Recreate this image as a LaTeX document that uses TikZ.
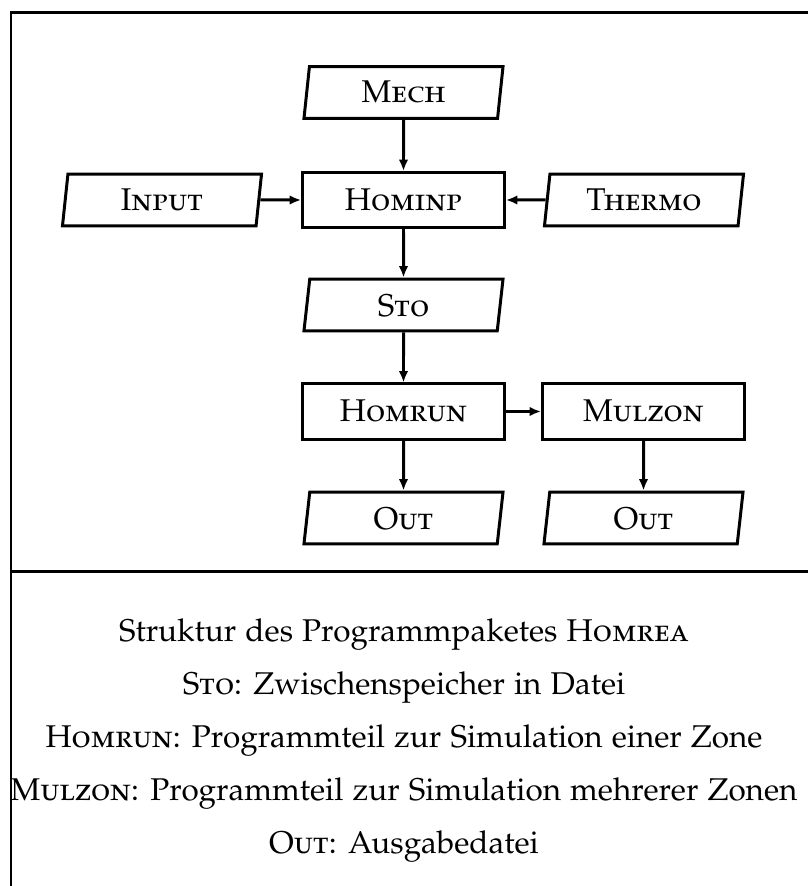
\documentclass[tikz,border=0pt]{standalone}
\usepackage[T1]{fontenc}
\usepackage[sc]{mathpazo}
\usetikzlibrary{shapes.geometric,arrows.meta}

\tikzset{
  prog/.style={draw, line width=0.95pt, minimum width=64.2pt,
    minimum height=17.5pt, inner sep=0pt},
  datei/.style={trapezium, trapezium left angle=76, trapezium right angle=104,
    trapezium stretches body=true, draw, line width=0.95pt,
    minimum width=63.3pt, minimum height=16.5pt, inner sep=0pt},
  pfeil/.style={-{Latex[length=3.6pt,width=3pt]}, line width=0.95pt},
  rahmen/.style={line width=0.9pt},
  legende/.style={anchor=base, font=\normalsize}
}

\begin{document}
\begin{tikzpicture}[x=0.318pt, y=0.318pt]
  \useasboundingbox (0,0) rectangle (808,886);
  \def\mx{403.5}  % middle column
  \def\rx{643.5}  % right column

  % frame of the table
  \draw[rahmen] (808,873.5) -- (11,873.5) -- (11,0);
  \draw[rahmen] (11,314.5) -- (808,314.5);

  % files and program parts
  \node[datei] (mech) at (\mx,793.5) {\textsc{Mech}};
  \node[prog] (hominp) at (\mx,686) {\textsc{Hominp}};
  \node[datei] (input) at (162,686) {\textsc{Input}};
  \node[datei] (thermo) at (644,686) {\textsc{Thermo}};
  \node[datei] (sto) at (\mx,581) {\textsc{Sto}};
  \node[prog] (homrun) at (\mx,474.5) {\textsc{Homrun}};
  \node[prog] (mulzon) at (\rx,474.5) {\textsc{Mulzon}};
  \node[datei] (outa) at (\mx,368) {\textsc{Out}};
  \node[datei] (outb) at (\rx,368) {\textsc{Out}};

  % data flow
  \draw[pfeil] (mech) -- (hominp);
  \draw[pfeil] (input) -- (hominp);
  \draw[pfeil] (thermo) -- (hominp);
  \draw[pfeil] (hominp) -- (sto);
  \draw[pfeil] (sto) -- (homrun);
  \draw[pfeil] (homrun) -- (mulzon);
  \draw[pfeil] (homrun) -- (outa);
  \draw[pfeil] (mulzon) -- (outb);

  % caption lines
  \node[legende] (titel) at (404,244) {Struktur des Programmpaketes \textsc{Homrea}};
  \node[legende] (lsto) at (404,191) {\textsc{Sto}: Zwischenspeicher in Datei};
  \node[legende] (lhomrun) at (404,138) {\textsc{Homrun}: Programmteil zur Simulation einer Zone};
  \node[legende] (lmulzon) at (404,85) {\textsc{Mulzon}: Programmteil zur Simulation mehrerer Zonen};
  \node[legende] (lout) at (404,32) {\textsc{Out}: Ausgabedatei};
\end{tikzpicture}
\end{document}
